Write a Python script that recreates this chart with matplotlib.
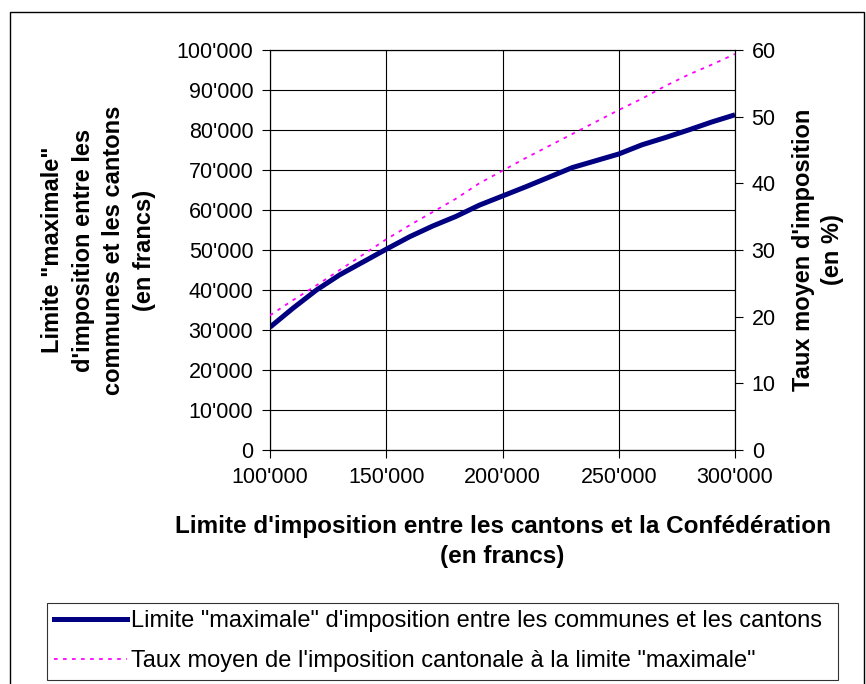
import matplotlib.pyplot as plt
from matplotlib.lines import Line2D
from matplotlib.patches import Rectangle
from matplotlib.ticker import FuncFormatter

plt.rcParams['font.family'] = ['Liberation Sans', 'DejaVu Sans']

# limite cantons / Confédération (francs)
limite_conf = [100000, 110000, 120000, 130000, 140000, 150000, 160000, 170000, 180000, 190000,
               200000, 210000, 220000, 230000, 240000, 250000, 260000, 270000, 280000, 290000, 300000]
# limite "maximale" communes / cantons (francs)
limite_max = [30700, 35500, 40000, 43800, 47000, 50200, 53300, 56000, 58400, 61200,
              63500, 65800, 68200, 70600, 72300, 74000, 76300, 78100, 80000, 82000, 83800]
# taux moyen (%)
taux_moyen = [20.2, 22.5, 24.7, 27.0, 29.3, 31.6, 33.7, 35.7, 37.7, 40.0,
              41.9, 43.8, 45.6, 47.4, 49.2, 51.0, 52.7, 54.6, 56.3, 57.8, 59.4]

fig = plt.figure(figsize=(8.66, 6.84), dpi=100)
ax = fig.add_axes([270 / 866, 1 - 450 / 684, 465 / 866, 400 / 684])
ax2 = ax.twinx()

fmt = FuncFormatter(lambda v, p: '0' if v == 0 else f'{int(v):,}'.replace(',', "'"))

ax.plot(limite_conf, limite_max, color='#000080', lw=3.6, solid_capstyle='butt', zorder=3)
ax2.plot(limite_conf, taux_moyen, color='#FF00FF', lw=1.3, ls=(0, (2, 3)), zorder=3)

ax.set_xlim(100000, 300000)
ax.set_ylim(0, 100000)
ax2.set_ylim(0, 60)
ax.set_xticks(range(100000, 300001, 50000))
ax.set_yticks(range(0, 100001, 10000))
ax2.set_yticks(range(0, 61, 10))
ax.xaxis.set_major_formatter(fmt)
ax.yaxis.set_major_formatter(fmt)

ax.grid(True, color='black', lw=0.8)
ax.set_axisbelow(True)
for a in (ax, ax2):
    a.tick_params(labelsize=15.5, direction='out', length=6, width=0.8, colors='black', pad=6)
    for s in a.spines.values():
        s.set_linewidth(0.8)

ax.set_xlabel("Limite d'imposition entre les cantons et la Confédération\n(en francs)",
              fontsize=17.5, fontweight='bold', labelpad=20, linespacing=1.38)
ax.set_ylabel("Limite \"maximale\"\nd'imposition entre les\ncommunes et les cantons\n(en francs)",
              fontsize=17, fontweight='bold', labelpad=15, linespacing=1.42)
ax2.set_ylabel("Taux moyen d'imposition\n(en %)", fontsize=17, fontweight='bold',
               labelpad=12, linespacing=1.33)

handles = [Line2D([], [], color='#000080', lw=3.6),
           Line2D([], [], color='#FF00FF', lw=1.3, ls=(0, (2, 3)))]
labels = ['Limite "maximale" d\'imposition entre les communes et les cantons',
          'Taux moyen de l\'imposition cantonale à la limite "maximale"']
leg = fig.legend(handles, labels, loc='upper left',
                 bbox_to_anchor=(47 / 866, 1 - 603 / 684, 791 / 866, 0),
                 mode='expand', fontsize=17, frameon=True, fancybox=False, handlelength=3.1,
                 handletextpad=0.15, borderpad=0.3, labelspacing=0.78, borderaxespad=0)
leg.get_frame().set_edgecolor('black')
leg.get_frame().set_linewidth(0.8)

fig.patches.append(Rectangle((10 / 866, -0.01), 854 / 866, 1 - 12 / 684 + 0.01, transform=fig.transFigure,
                             fill=False, edgecolor='black', lw=1.0))

fig.savefig('out.png', dpi=100)
